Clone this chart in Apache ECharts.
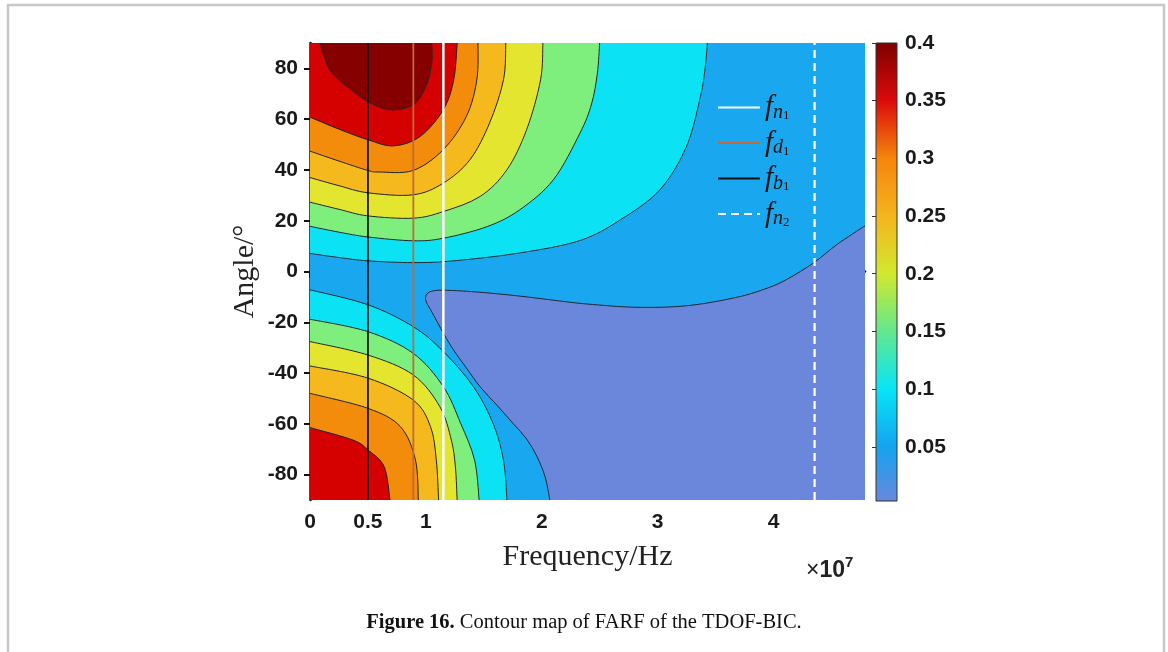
<!DOCTYPE html>
<html><head><meta charset="utf-8">
<script src="https://cdn.jsdelivr.net/npm/echarts@6/dist/echarts.min.js"></script>
<style>html,body{margin:0;padding:0;background:#fff}#c{width:1168px;height:652px}</style>
</head><body><div id="c"></div>
<script>
// ---------- data ----------
const freqRange = [0, 4.79];          // ×1e7 Hz
const angleRange = [-90, 90];         // degrees
const freqTicks = [0, 0.5, 1, 2, 3, 4];
const angleTicks = [-80, -60, -40, -20, 0, 20, 40, 60, 80];
const colorbarRange = [0.003, 0.4];
const colorbarTicks = [0.05, 0.1, 0.15, 0.2, 0.25, 0.3, 0.35, 0.4];
const colorbarValues = [0.003, 0.05, 0.1, 0.15, 0.2, 0.25, 0.3, 0.35, 0.4];

// reference frequencies (×1e7 Hz)
const refNames = ['fn1', 'fd1', 'fb1', 'fn2'];
const refFreqs = [1.151, 0.892, 0.5, 4.355];

// contour lines, [frequency ×1e7, angle]
// level 1 (lowest) – closed against bottom/right edges
const level1 = [[2.07,-90],[2.03,-81],[1.96,-73],[1.87,-66],[1.756,-60],[1.62,-53],[1.47,-45.5],[1.35,-38],[1.24,-31],[1.16,-25],[1.10,-20],[1.04,-15],[1.0,-11.5],[1.01,-8.8],[1.08,-7.5],[1.238,-7.5],[1.5,-8.3],[1.813,-9.7],[2.1,-11.3],[2.39,-12.8],[2.82,-14.1],[3.25,-13.5],[3.68,-10.2],[3.95,-6.5],[4.12,-3],[4.35,3.5],[4.55,10.7],[4.79,18]];
// upper hill: from top edge to left edge
const level2Top = [[3.43,90],[3.41,80],[3.37,69],[3.25,49.3],[3.02,32.2],[2.68,20.4],[2.33,12.2],[1.81,7.3],[1.24,4.2],[0.89,3.5],[0.5,4.2],[0.25,5.5],[0,7.1]];
const level3Top = [[2.50,90],[2.48,78],[2.43,66],[2.33,54.5],[2.10,36.1],[1.81,24.3],[1.53,17.7],[1.15,13.1],[0.89,12.1],[0.5,13.6],[0.25,15.5],[0,17.8]];
const level4Top = [[2.01,90],[1.99,75.5],[1.87,55.9],[1.70,40.1],[1.47,29.6],[1.15,23.6],[0.89,21.0],[0.5,21.9],[0.25,24.5],[0,27.3]];
const level5Top = [[1.69,90],[1.67,75.5],[1.55,58.5],[1.38,44],[1.15,34.8],[0.89,30.2],[0.5,31],[0.25,33.8],[0,37]];
const level6Top = [[1.45,90],[1.44,75.5],[1.35,61.1],[1.15,48],[0.89,39.8],[0.6,39.2],[0.5,39.8],[0.25,43.5],[0,47.4]];
const level7Top = [[1.27,90],[1.24,75.5],[1.15,63.7],[0.95,53.2],[0.72,49.5],[0.5,51.9],[0.26,55.9],[0,60.8]];
const level8Top = [[0.086,90],[0.17,79.5],[0.32,72.9],[0.5,67],[0.69,63.7],[0.89,65.7],[1.0,72.9],[1.05,82],[1.05,90]];
// lower hill: from left edge to bottom edge
const level2Bottom = [[0,-7.2],[0.5,-13.1],[0.89,-21.7],[1.15,-31.5],[1.41,-45.3],[1.58,-59.8],[1.67,-74.3],[1.70,-90]];
const level3Bottom = [[0,-18.8],[0.5,-23.7],[0.89,-32.2],[1.15,-45.3],[1.30,-59.8],[1.42,-74.2],[1.46,-90]];
const level4Bottom = [[0,-27.6],[0.5,-32.9],[0.89,-40.7],[1.12,-53.2],[1.22,-66.4],[1.255,-77],[1.27,-90]];
const level5Bottom = [[0,-37.2],[0.5,-42],[0.89,-50.6],[1.04,-61.1],[1.09,-74.2],[1.11,-90]];
const level6Bottom = [[0,-48],[0.5,-53.9],[0.78,-61.1],[0.91,-74.2],[0.935,-90]];
const level7Bottom = [[0,-61.5],[0.37,-66.4],[0.5,-70.3],[0.64,-76.9],[0.69,-90]];

// ---------- styles ----------
const bandColors = ['#6A87DC','#19A8EF','#0BE3F4','#7EEF7C','#E3E52F','#F6B91D','#F38B0B','#D50000','#860000'];
const colorbarColors = ['#6A87DC','#14A3F0','#08E4F6','#62E88E','#D2E82E','#F5B41E','#F5850C','#DC0A0A','#7E0000'];
const refStyles = [
  {color:'#ffffff', width:2.5, type:'solid'},
  {color:'#C46A3A', width:1.8, type:'solid'},
  {color:'#111111', width:1.8, type:'solid'},
  {color:'#ffffff', width:2.2, type:[8,5]}
];
const refLabels = {fn1:['n','1'], fd1:['d','1'], fb1:['b','1'], fn2:['n','2']};

// ---------- build regions ----------
const X0 = freqRange[0], X1 = freqRange[1], Y0 = angleRange[0], Y1 = angleRange[1];
const regions = [
  {pts:[[X0,Y0],[X1,Y0],[X1,Y1],[X0,Y1]], straight:true, color:bandColors[1]},
  {pts:level1, corner:[X1,Y0], color:bandColors[0]},
  {pts:level2Top, corner:[X0,Y1], color:bandColors[2]},
  {pts:level2Bottom, corner:[X0,Y0], color:bandColors[2]},
  {pts:level3Top, corner:[X0,Y1], color:bandColors[3]},
  {pts:level3Bottom, corner:[X0,Y0], color:bandColors[3]},
  {pts:level4Top, corner:[X0,Y1], color:bandColors[4]},
  {pts:level4Bottom, corner:[X0,Y0], color:bandColors[4]},
  {pts:level5Top, corner:[X0,Y1], color:bandColors[5]},
  {pts:level5Bottom, corner:[X0,Y0], color:bandColors[5]},
  {pts:level6Top, corner:[X0,Y1], color:bandColors[6]},
  {pts:level6Bottom, corner:[X0,Y0], color:bandColors[6]},
  {pts:level7Top, corner:[X0,Y1], color:bandColors[7]},
  {pts:level7Bottom, corner:[X0,Y0], color:bandColors[7]},
  {pts:level8Top, color:bandColors[8]}
];
const contourLines = [level1, level2Top, level2Bottom, level3Top, level3Bottom, level4Top, level4Bottom,
  level5Top, level5Bottom, level6Top, level6Bottom, level7Top, level7Bottom, level8Top];

function catmull(p) {
  let d = 'M' + p[0][0] + ',' + p[0][1];
  for (let i = 0; i < p.length - 1; i++) {
    const p0 = p[i-1] || p[i], p1 = p[i], p2 = p[i+1], p3 = p[i+2] || p[i+1];
    const t = 1/6;
    const c1 = [p1[0] + (p2[0]-p0[0])*t, p1[1] + (p2[1]-p0[1])*t];
    const c2 = [p2[0] - (p3[0]-p1[0])*t, p2[1] - (p3[1]-p1[1])*t];
    d += ' C' + c1[0] + ',' + c1[1] + ' ' + c2[0] + ',' + c2[1] + ' ' + p2[0] + ',' + p2[1];
  }
  return d;
}
function straightPath(p) {
  return 'M' + p.map(q => q[0] + ',' + q[1]).join(' L');
}

const chart = echarts.init(document.getElementById('c'), null, {renderer:'canvas'});
const tickFont = {fontFamily:'Liberation Sans, Arial, sans-serif', fontWeight:'bold', fontSize:21, color:'#1a1a1a'};

const gradStops = colorbarValues.map((v, i) => ({
  offset: (v - colorbarRange[0]) / (colorbarRange[1] - colorbarRange[0]),
  color: colorbarColors[i]
}));

const option = {
  animation: false,
  backgroundColor: '#ffffff',
  title: {
    text: '{b|Figure 16.} Contour map of FARF of the TDOF-BIC.',
    left: 'center', top: 607,
    textStyle: {
      fontFamily: 'Liberation Serif, serif', fontSize: 20.5, fontWeight: 'normal', color: '#111',
      rich: {b: {fontFamily: 'Liberation Serif, serif', fontSize: 20.5, fontWeight: 'bold', color: '#111'}}
    }
  },
  graphic: [
    {type:'rect', silent:true, z:-10, shape:{x:8, y:5, width:1156, height:720},
     style:{fill:'none', stroke:'#c8c8c8', lineWidth:2.5}},
    {type:'text', silent:true, left:806, top:555,
     style:{text:'{x|×}{n|10}{s|7}', rich:{
       x:{fontFamily:'Liberation Sans, Arial', fontSize:23, fill:'#222', lineHeight:27, verticalAlign:'bottom'},
       n:{fontFamily:'Liberation Sans, Arial', fontSize:23, fontWeight:'bold', fill:'#222', lineHeight:27, verticalAlign:'bottom'},
       s:{fontFamily:'Liberation Sans, Arial', fontSize:15, fontWeight:'bold', fill:'#222', lineHeight:14, verticalAlign:'top'}
     }}}
  ],
  legend: {
    data: refNames,
    orient: 'vertical', left: 712, top: 88,
    itemWidth: 42, itemHeight: 14, itemGap: 6,
    itemStyle: {opacity: 0},
    formatter: name => '{f|f}{s|' + refLabels[name][0] + '}{t|' + refLabels[name][1] + '}',
    textStyle: {
      color: '#111',
      rich: {
        f: {fontFamily:'Liberation Serif, serif', fontStyle:'italic', fontSize:29, lineHeight:30, color:'#111'},
        s: {fontFamily:'Liberation Serif, serif', fontStyle:'italic', fontSize:20, lineHeight:14, verticalAlign:'bottom', color:'#111'},
        t: {fontFamily:'Liberation Serif, serif', fontSize:13, lineHeight:8, verticalAlign:'bottom', color:'#111'}
      }
    }
  },
  grid: [
    {left:310, top:43, width:555, height:457},
    {left:876, top:43, width:21, height:458}
  ],
  xAxis: [
    {type:'value', gridIndex:0, min:X0, max:X1,
     name:'Frequency/Hz', nameLocation:'middle', nameGap:42,
     nameTextStyle:{fontFamily:'Liberation Serif, serif', fontSize:30, color:'#222'},
     axisLine:{lineStyle:{color:'#111', width:2.5}},
     axisTick:{customValues:freqTicks, length:6, lineStyle:{color:'#111', width:2}},
     axisLabel:Object.assign({customValues:freqTicks, margin:12, formatter:v => String(v)}, tickFont),
     splitLine:{show:false}},
    {type:'value', gridIndex:1, min:0, max:1, show:false}
  ],
  yAxis: [
    {type:'value', gridIndex:0, min:Y0, max:Y1,
     name:'Angle/°', nameLocation:'middle', nameGap:50,
     nameTextStyle:{fontFamily:'Liberation Serif, serif', fontSize:30, color:'#222'},
     axisLine:{lineStyle:{color:'#111', width:2.5}},
     axisTick:{customValues:angleTicks, length:6, lineStyle:{color:'#111', width:2}},
     axisLabel:Object.assign({customValues:angleTicks, margin:12, formatter:v => String(v)}, tickFont),
     splitLine:{show:false}},
    {type:'value', gridIndex:1, min:colorbarRange[0], max:colorbarRange[1], position:'right',
     axisLine:{show:false},
     axisTick:{customValues:colorbarTicks, inside:true, length:4, lineStyle:{color:'#333', width:1}},
     axisLabel:Object.assign({customValues:colorbarTicks, margin:8,
       formatter:v => (Math.abs(v*20 - Math.round(v*20)) < 1e-6 && v > 0.01) ? String(+v.toFixed(2)) : ''}, tickFont),
     splitLine:{show:false}}
  ],
  series: [
    {type:'custom', name:'fills', xAxisIndex:0, yAxisIndex:0, clip:true, silent:true, z:1,
     data: regions.map((r, i) => [X0, Y0, i]), encode:{x:0, y:1},
     renderItem: (params, api) => {
       const r = regions[params.dataIndex];
       const px = r.pts.map(p => api.coord(p));
       let d = r.straight ? straightPath(px) : catmull(px);
       if (r.corner) { const c = api.coord(r.corner); d += ' L' + c[0] + ',' + c[1]; }
       d += ' Z';
       return {type:'path', shape:{pathData:d}, style:{fill:r.color, stroke:r.color, lineWidth:0.5}};
     }},
    {type:'custom', name:'contours', xAxisIndex:0, yAxisIndex:0, clip:true, silent:true, z:2,
     data: contourLines.map((c, i) => [X0, Y0, i]), encode:{x:0, y:1},
     renderItem: (params, api) => {
       const px = contourLines[params.dataIndex].map(p => api.coord(p));
       return {type:'path', shape:{pathData:catmull(px)}, style:{fill:'none', stroke:'#1c2834', lineWidth:1}};
     }},
    {type:'custom', name:'colorbar', xAxisIndex:1, yAxisIndex:1, silent:true, z:1,
     data:[[0, colorbarRange[0]]], encode:{x:0, y:1},
     renderItem: (params, api) => {
       const a = api.coord([0, colorbarRange[0]]);
       const b = api.coord([1, colorbarRange[1]]);
       return {type:'rect', shape:{x:a[0], y:b[1], width:b[0]-a[0], height:a[1]-b[1]},
         style:{fill:new echarts.graphic.LinearGradient(0, 1, 0, 0, gradStops), stroke:'#333', lineWidth:1}};
     }}
  ].concat(refNames.map((n, i) => ({
    type:'line', name:n, xAxisIndex:0, yAxisIndex:0, z:5, symbol:'none', silent:true,
    data:[[refFreqs[i], Y0], [refFreqs[i], Y1]],
    lineStyle:refStyles[i], itemStyle:{color:refStyles[i].color}
  })))
};
chart.setOption(option);
</script></body></html>
